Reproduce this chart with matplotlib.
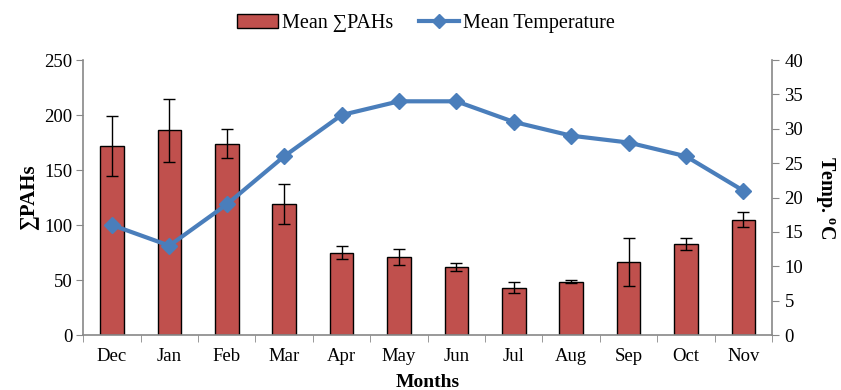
import numpy as np
import matplotlib
matplotlib.use("Agg")
import matplotlib.pyplot as plt
from matplotlib.lines import Line2D
from matplotlib.patches import Patch

plt.rcParams['font.family'] = ['Liberation Serif', 'DejaVu Serif']
plt.rcParams['mathtext.fontset'] = 'custom'
plt.rcParams['mathtext.rm'] = 'Liberation Serif'
plt.rcParams['mathtext.bf'] = 'Liberation Serif:bold'

# data
months = ["Dec", "Jan", "Feb", "Mar", "Apr", "May", "Jun", "Jul", "Aug", "Sep", "Oct", "Nov"]
pahs_mean = [172, 186, 174, 119, 75, 71, 62, 43, 48.5, 66.5, 83, 105]
pahs_err = [27, 29, 13, 18, 6, 7, 3.5, 5, 1.5, 21.5, 5.5, 6.5]
temp_mean = [16, 13, 19, 26, 32, 34, 34, 31, 29, 28, 26, 21]

bar_col = "#C0504D"
line_col = "#4A7EBB"
spine_col = "#888888"

fig = plt.figure(figsize=(8.41, 3.9), dpi=100)
ax = fig.add_axes([0.099, 0.141, 0.819, 0.705])
x = np.arange(len(months))

ax.bar(x, pahs_mean, width=0.41, color=bar_col, edgecolor="black", linewidth=1.0,
       yerr=pahs_err, error_kw=dict(ecolor="black", elinewidth=1.0, capsize=4, capthick=1.0),
       zorder=2)
ax.set_ylim(0, 250)
ax.set_yticks(range(0, 251, 50))
ax.set_xlim(-0.5, len(months) - 0.5)
ax.set_xticks(x)
ax.set_xticklabels(months)
ax.set_xticks(np.arange(-0.5, len(months), 1), minor=True)
ax.tick_params(axis="x", which="major", length=0, labelsize=13.5, pad=9)
ax.tick_params(axis="x", which="minor", length=5, color=spine_col, direction="out")
ax.tick_params(axis="y", labelsize=13.5, length=5, color=spine_col, direction="out", pad=3)
ax.set_ylabel("∑PAHs", fontsize=15, fontweight="bold", labelpad=4)
ax.set_xlabel("Months", fontsize=14, fontweight="bold", labelpad=7)
for s in ["top", "right"]:
    ax.spines[s].set_visible(False)
for s in ["left", "bottom"]:
    ax.spines[s].set_color(spine_col)
    ax.spines[s].set_linewidth(1.2)

ax2 = ax.twinx()
ax2.plot(x, temp_mean, color=line_col, linewidth=3, marker="D", markersize=8, zorder=3)
ax2.set_ylim(0, 40)
ax2.set_yticks(range(0, 41, 5))
ax2.tick_params(axis="y", labelsize=13.5, length=5, color=spine_col, direction="out", pad=4)
ax2.set_ylabel(r"Temp. $^{\mathbf{o}}$C", fontsize=14.5, fontweight="bold", rotation=-90, labelpad=24)
for s in ["top", "left", "bottom"]:
    ax2.spines[s].set_visible(False)
ax2.spines["right"].set_color(spine_col)
ax2.spines["right"].set_linewidth(1.2)

handles = [Patch(facecolor=bar_col, edgecolor="black", label="Mean ∑PAHs"),
           Line2D([], [], color=line_col, linewidth=3, marker="D", markersize=7, label="Mean Temperature")]
fig.legend(handles=handles, loc="upper center", bbox_to_anchor=(0.507, 1.01), ncol=2, frameon=False,
           fontsize=14.5, handlelength=2, columnspacing=1.3, handletextpad=0.2)

fig.savefig("out.png", dpi=100)
